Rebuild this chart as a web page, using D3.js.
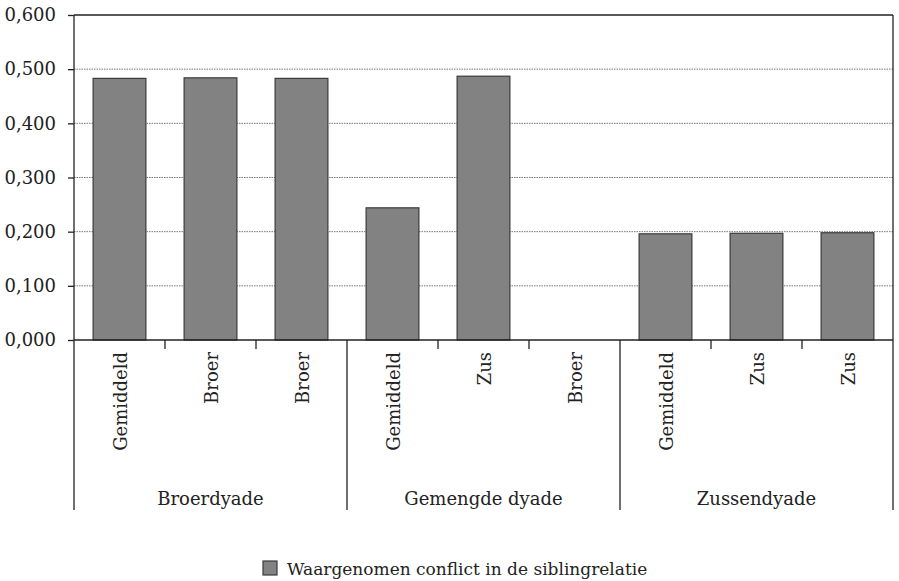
<!DOCTYPE html>
<html>
<head>
<meta charset="utf-8">
<script src="https://cdn.jsdelivr.net/npm/d3@7"></script>
<style>
  body { margin: 0; background: #fff; }
  text { font-family: "DejaVu Serif", "Liberation Serif", serif; fill: #222; }
</style>
</head>
<body>
<div id="chart"></div>
<script>
// chart data
const groups = ["Broerdyade", "Gemengde dyade", "Zussendyade"];
const categories = ["Gemiddeld", "Broer", "Broer", "Gemiddeld", "Zus", "Broer", "Gemiddeld", "Zus", "Zus"];
const groupOf = [0, 0, 0, 1, 1, 1, 2, 2, 2];
const values = [0.483, 0.484, 0.483, 0.244, 0.487, null, 0.196, 0.197, 0.198];
const yTicks = [0, 0.1, 0.2, 0.3, 0.4, 0.5, 0.6];
const legendLabel = "Waargenomen conflict in de siblingrelatie";

const W = 899, H = 581;
const margin = {top: 15, left: 74, right: 6};
const plotBottom = 340;

const svg = d3.select("#chart").append("svg")
  .attr("width", W).attr("height", H);

const keys = categories.map((c, i) => i);
const x = d3.scaleBand()
  .domain(keys)
  .range([margin.left, W - margin.right])
  .paddingInner(0.42)
  .paddingOuter(0.21);
const step = x.step();
const x0 = margin.left, x1 = W - margin.right;

const y = d3.scaleLinear().domain([0, 0.6]).range([plotBottom, margin.top]);

const fmt = v => d3.format(".3f")(v).replace(".", ",");

// gridlines (dotted)
svg.append("g").selectAll("line")
  .data(yTicks.filter(t => t > 0 && t < 0.6))
  .enter().append("line")
    .attr("x1", x0).attr("x2", x1)
    .attr("y1", d => y(d)).attr("y2", d => y(d))
    .attr("stroke", "#777")
    .attr("stroke-width", 1)
    .attr("stroke-dasharray", "1.5,1");

// bars
svg.append("g").selectAll("rect")
  .data(values.map((v, i) => ({v, i})).filter(d => d.v != null))
  .enter().append("rect")
    .attr("x", d => x(d.i))
    .attr("width", x.bandwidth())
    .attr("y", d => y(d.v))
    .attr("height", d => plotBottom - y(d.v))
    .attr("fill", "#828282")
    .attr("stroke", "#3a3a3a")
    .attr("stroke-width", 1.2);

// y axis
const yAxis = svg.append("g")
  .attr("transform", "translate(" + x0 + ",0)")
  .call(d3.axisLeft(y).tickValues(yTicks).tickFormat(fmt).tickSize(6).tickPadding(12));
yAxis.select(".domain").remove();
yAxis.selectAll("line").attr("stroke", "#222").attr("stroke-width", 1.3);
yAxis.selectAll("text").attr("font-size", 18).attr("font-family", "DejaVu Serif").attr("fill", "#222");

// frame: top, right, left and bottom baseline
const frame = svg.append("g").attr("stroke", "#222").attr("stroke-width", 1.3);
frame.append("line").attr("x1", x0).attr("x2", x1).attr("y1", y(0.6)).attr("y2", y(0.6));
frame.append("line").attr("x1", x1).attr("x2", x1).attr("y1", y(0.6)).attr("y2", plotBottom);
frame.append("line").attr("x1", x0).attr("x2", x0).attr("y1", y(0.6)).attr("y2", plotBottom);
frame.append("line").attr("x1", x0).attr("x2", x1).attr("y1", plotBottom).attr("y2", plotBottom);

// group separators (long) and category ticks (short)
const sepBottom = 510;
keys.concat([keys.length]).forEach(i => {
  const xp = x0 + i * step;
  const isSep = i % 3 === 0;
  frame.append("line")
    .attr("x1", xp).attr("x2", xp)
    .attr("y1", plotBottom).attr("y2", isSep ? sepBottom : plotBottom + 9);
});

// category labels (rotated)
svg.append("g").selectAll("text")
  .data(categories.map((c, i) => ({c, i})))
  .enter().append("text")
    .attr("transform", d => "translate(" + (x(d.i) + x.bandwidth() / 2 + 7) + "," + 352 + ") rotate(-90)")
    .attr("text-anchor", "end")
    .attr("font-size", 18)
    .text(d => d.c);

// group labels
svg.append("g").selectAll("text")
  .data(groups)
  .enter().append("text")
    .attr("x", (d, g) => x0 + (g * 3 + 1.5) * step)
    .attr("y", 505)
    .attr("text-anchor", "middle")
    .attr("font-size", 18)
    .text(d => d);

// legend
const lg = svg.append("g").attr("transform", "translate(263,561)");
lg.append("rect").attr("width", 14).attr("height", 14)
  .attr("fill", "#828282").attr("stroke", "#3a3a3a").attr("stroke-width", 1.2);
lg.append("text").attr("x", 24).attr("y", 13.5).attr("font-size", 17).text(legendLabel);
</script>
</body>
</html>
